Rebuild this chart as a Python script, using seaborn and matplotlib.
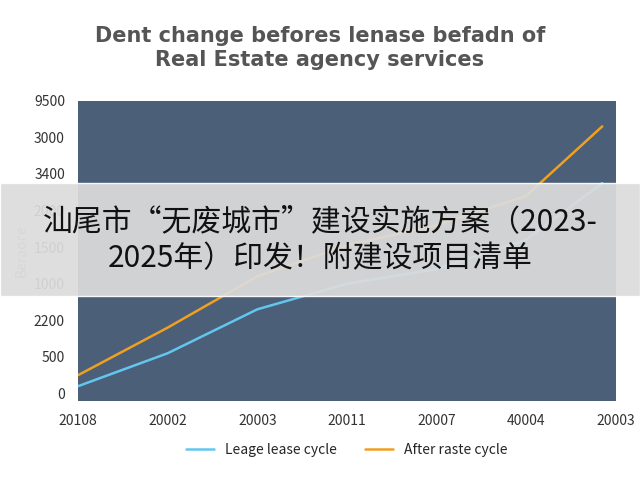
import matplotlib
matplotlib.use("Agg")
import matplotlib.pyplot as plt
import seaborn as sns
import pandas as pd
from matplotlib.patches import Rectangle

x_pos = [0, 1, 2, 3, 4, 5, 5.85]
x_labels = ["20108", "20002", "20003", "20011", "20007", "40004", "20003"]
y_labels = ["0", "500", "2200", "1000", "1500", "2000", "3400", "3000", "9500"]
lease = [0.2, 1.1, 2.3, 3.0, 3.4, 4.2, 5.75]
after = [0.5, 1.8, 3.2, 4.05, 4.6, 5.4, 7.3]

df = pd.DataFrame({"x": x_pos * 2,
                   "y": lease + after,
                   "s": ["Leage lease cycle"] * 7 + ["After raste cycle"] * 7})

sns.set_theme(style="white")
plt.rcParams["font.family"] = ["Noto Sans CJK SC", "DejaVu Sans"]

fig = plt.figure(figsize=(6.4, 4.8), dpi=100)
ax = fig.add_axes([0.122, 0.165, 0.84, 0.625])
ax.set_facecolor("#4b5f78")
sns.lineplot(data=df, x="x", y="y", hue="s", ax=ax, linewidth=1.8,
             palette={"Leage lease cycle": "#62c6ee", "After raste cycle": "#f0a020"})
ax.set_xlim(0, 6.0)
ax.set_ylim(-0.2, 7.85)
ax.set_xticks(range(7))
ax.set_xticklabels(x_labels, fontsize=10, color="#333333")
ax.set_yticks(range(9))
ax.set_yticklabels(y_labels, fontsize=10, color="#333333")
ax.set_xlabel("")
ax.set_ylabel("Berаоге", fontsize=10, color="#999999")
for s in ax.spines.values():
    s.set_visible(False)
ax.legend(loc="upper center", bbox_to_anchor=(0.5, -0.1), ncol=2, frameon=False,
          fontsize=10)

fig.text(0.5, 0.9, "Dent change befores lenase befadn of\nReal Estate agency services",
         ha="center", va="center", fontsize=15, fontweight="bold", color="#555555",
         family="DejaVu Sans")

fig.patches.append(Rectangle((0, 0.383), 1, 0.235, transform=fig.transFigure,
                             facecolor="#dcdcdc", alpha=0.93, zorder=5))
fig.text(0.5, 0.5, "汕尾市“无废城市”建设实施方案（2023-\n2025年）印发！附建设项目清单",
         ha="center", va="center", fontsize=21.5, color="#111111", zorder=6,
         linespacing=1.25)

fig.savefig("out.png", dpi=100)
